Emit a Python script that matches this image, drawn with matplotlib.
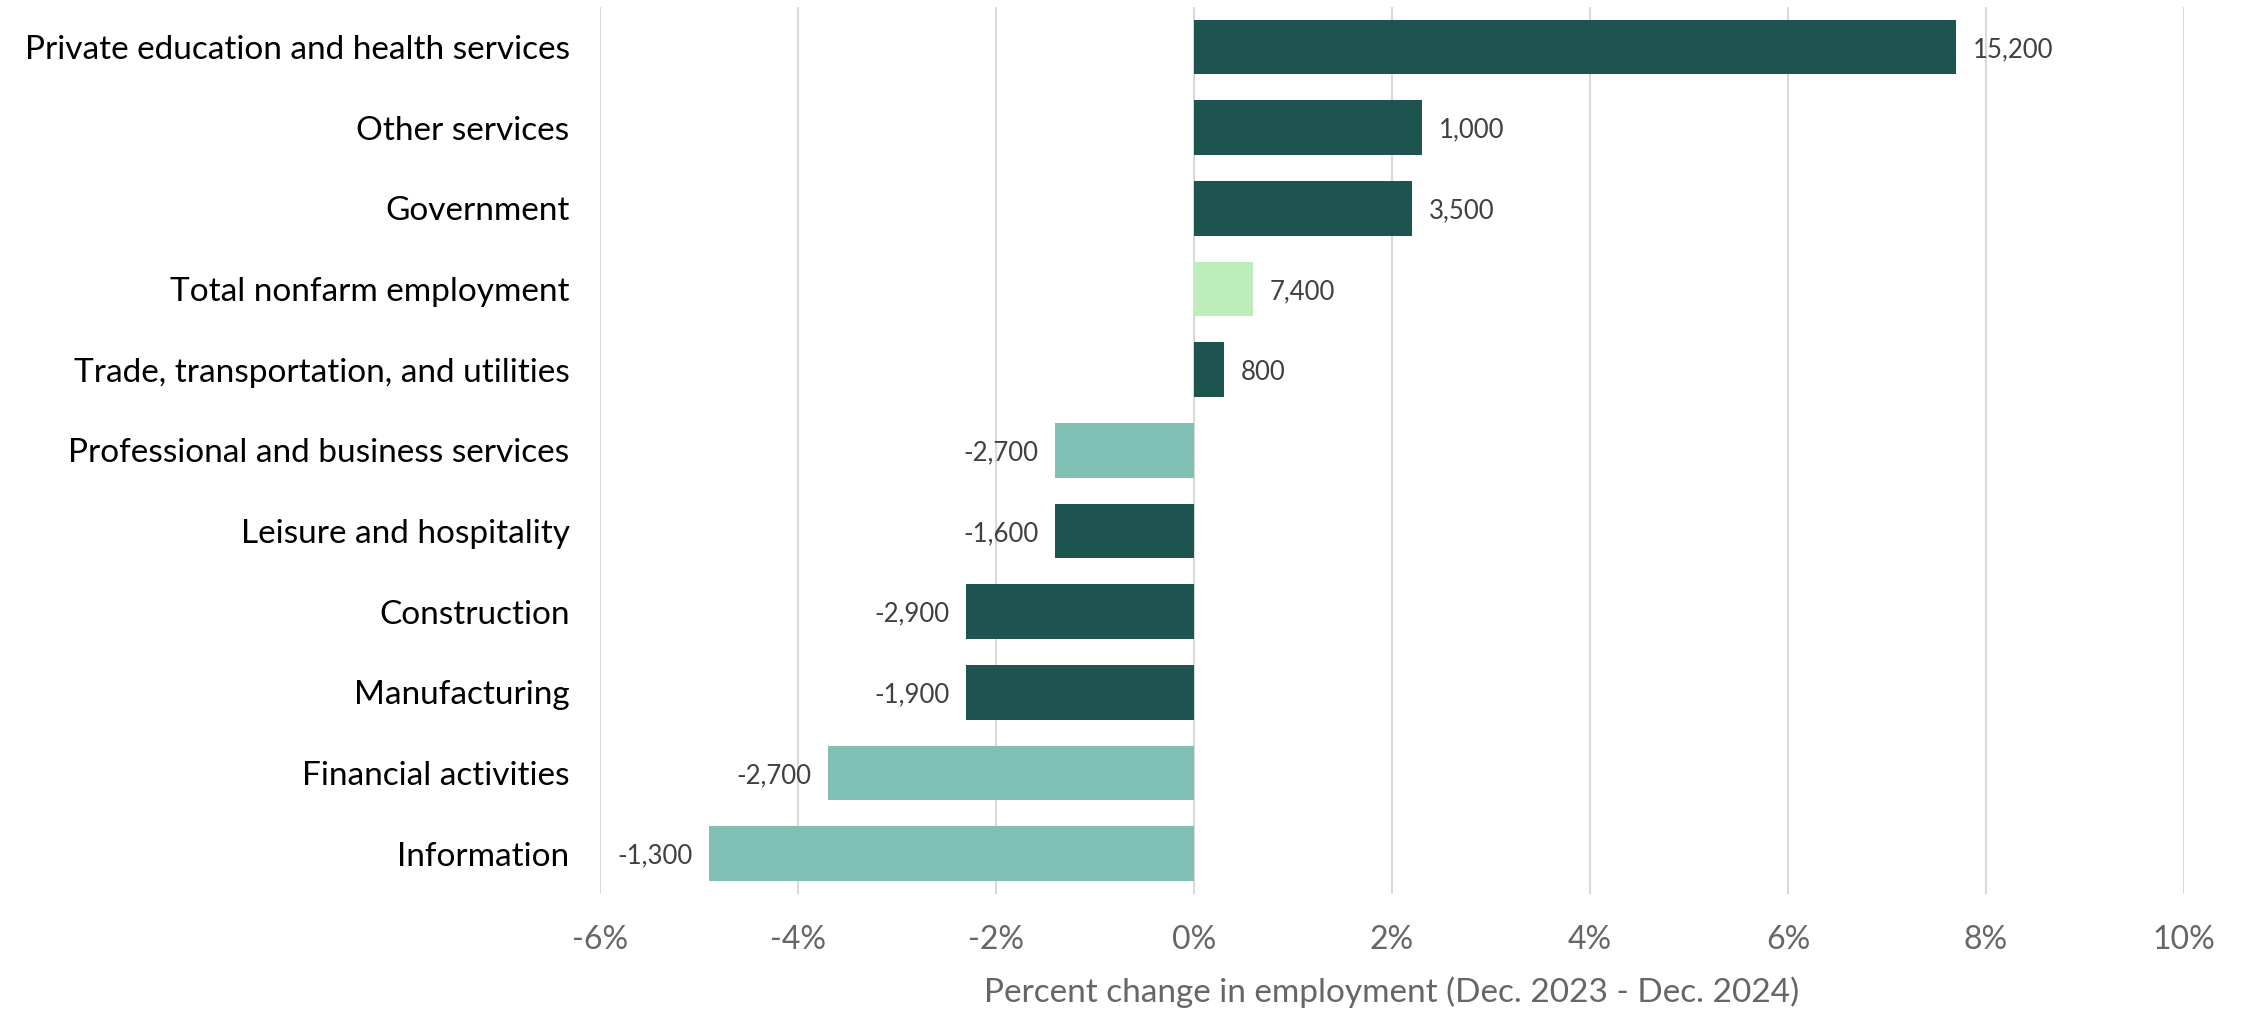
import matplotlib
matplotlib.use("Agg")
import matplotlib.pyplot as plt
from matplotlib.ticker import FuncFormatter

# categories top to bottom, as in the chart
categories = [
    "Private education and health services",
    "Other services",
    "Government",
    "Total nonfarm employment",
    "Trade, transportation, and utilities",
    "Professional and business services",
    "Leisure and hospitality",
    "Construction",
    "Manufacturing",
    "Financial activities",
    "Information",
]
pct_change = [7.7, 2.3, 2.2, 0.6, 0.3, -1.4, -1.4, -2.3, -2.3, -3.7, -4.9]
job_change = [15200, 1000, 3500, 7400, 800, -2700, -1600, -2900, -1900, -2700, -1300]
color_group = ["dark", "dark", "dark", "total", "dark", "light", "dark", "dark", "dark", "light", "light"]

palette = {"dark": "#1E5450", "light": "#80BFB4", "total": "#BDEDBB"}

plt.rcParams["font.family"] = ["Lato", "DejaVu Sans"]

fig = plt.figure(figsize=(22.51, 10.16), dpi=100)
ax = fig.add_axes([0.2666, 0.1201, 0.7036, 0.8733])

ypos = list(range(len(categories)))
colors = [palette[g] for g in color_group]
ax.barh(ypos, pct_change, height=0.68, color=colors, zorder=3)

for y, v, n in zip(ypos, pct_change, job_change):
    off = 12 if v >= 0 else -12
    ax.annotate(f"{n:,}", (v, y), xytext=(off, 0), textcoords="offset points",
                ha="left" if v >= 0 else "right", va="center_baseline",
                fontsize=18.5, color="#404040")

ax.set_yticks(ypos)
ax.set_yticklabels(categories, fontsize=24, color="black")
ax.set_ylim(len(categories) - 0.5, -0.5)

ax.set_xlim(-6, 10)
ax.set_xticks(range(-6, 11, 2))
ax.xaxis.set_major_formatter(FuncFormatter(lambda x, p: f"{int(x)}%"))
ax.tick_params(axis="x", labelsize=23, colors="#666666", length=0, pad=22)
ax.tick_params(axis="y", length=0, pad=22)
ax.grid(axis="x", color="#D9D9D9", linewidth=1.5, zorder=0)
for s in ax.spines.values():
    s.set_visible(False)

ax.set_xlabel("Percent change in employment (Dec. 2023 - Dec. 2024)", fontsize=24,
              color="#666666", labelpad=16)

fig.savefig("out.png", dpi=100)
